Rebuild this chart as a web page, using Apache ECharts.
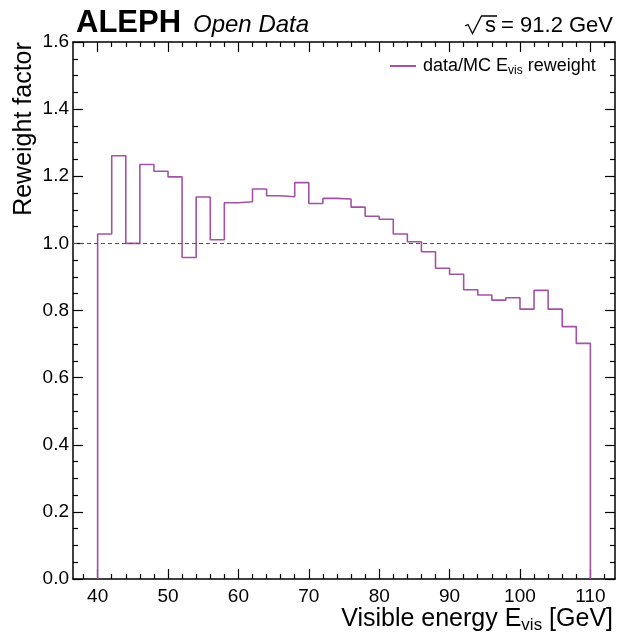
<!DOCTYPE html>
<html>
<head>
<meta charset="utf-8">
<script src="https://cdn.jsdelivr.net/npm/echarts@6/dist/echarts.min.js"></script>
<style>
  html, body { margin: 0; padding: 0; background: #fff; }
  #chart { width: 619px; height: 639px; }
</style>
</head>
<body>
<div id="chart"></div>
<script>
// Bin edges of the visible-energy histogram (GeV)
const binEdges = [40, 42, 44, 46, 48, 50, 52, 54, 56, 58, 60, 62, 64, 66, 68, 70, 72, 74,
                  76, 78, 80, 82, 84, 86, 88, 90, 92, 94, 96, 98, 100, 102, 104, 106, 108, 110];
// data/MC reweight factor per bin
const reweightValues = [1.028, 1.261, 1.000, 1.235, 1.215, 1.198, 0.958, 1.138, 1.011, 1.121,
                        1.124, 1.162, 1.142, 1.139, 1.181, 1.119, 1.134, 1.132, 1.108, 1.081,
                        1.072, 1.028, 1.005, 0.975, 0.926, 0.908, 0.862, 0.846, 0.831, 0.838,
                        0.804, 0.860, 0.804, 0.752, 0.702];
const referenceLevel = 1.0;
const xTickLabels = [40, 50, 60, 70, 80, 90, 100, 110];
const seriesName = 'data/MC E_vis reweight';

const FONT = '"Liberation Sans", Arial, Helvetica, sans-serif';
const X_MIN = 36.5, X_MAX = 113.5;

// minor x ticks every 2 GeV (skipping the labelled ones)
const xMinorTicks = [];
for (let x = 38; x <= 112; x += 2) if (x % 10 !== 0) xMinorTicks.push(x);

// step outline: rise at the first edge, one level per bin, drop at the last edge
const stepPoints = [[binEdges[0], 0]];
reweightValues.forEach((v, i) => stepPoints.push([binEdges[i], v]));
stepPoints.push([binEdges[binEdges.length - 1], reweightValues[reweightValues.length - 1]]);
stepPoints.push([binEdges[binEdges.length - 1], 0]);

const LINE_COLOR = '#a353a3';
const frameLine = { color: '#000', width: 1.5 };
const tickLine = { color: '#000', width: 1.2 };

function xAxisDef(position, major) {
  return {
    type: 'value', min: X_MIN, max: X_MAX, position: position,
    axisLine: { show: major, onZero: false, lineStyle: frameLine },
    axisTick: { show: true, inside: true, length: major ? 10 : 5,
                customValues: major ? xTickLabels : xMinorTicks, lineStyle: tickLine },
    axisLabel: { show: major && position === 'bottom', customValues: xTickLabels,
                 fontSize: 19, color: '#000', fontFamily: FONT, margin: 8 },
    splitLine: { show: false }
  };
}
function yAxisDef(position) {
  return {
    type: 'value', min: 0, max: 1.6, interval: 0.2, position: position,
    axisLine: { show: true, onZero: false, lineStyle: frameLine },
    axisTick: { show: true, inside: true, length: 10, lineStyle: tickLine },
    minorTick: { show: true, splitNumber: 4, length: 5, lineStyle: tickLine },
    axisLabel: { show: position === 'left', fontSize: 19, color: '#000', fontFamily: FONT,
                 margin: 4, formatter: v => v.toFixed(1) },
    splitLine: { show: false },
    minorSplitLine: { show: false }
  };
}

const chart = echarts.init(document.getElementById('chart'), null, { renderer: 'canvas' });
chart.setOption({
  animation: false,
  backgroundColor: '#fff',
  grid: { left: 73, right: 4, top: 42, bottom: 60, containLabel: false },
  xAxis: [xAxisDef('bottom', true), xAxisDef('bottom', false),
          xAxisDef('top', true), xAxisDef('top', false)],
  yAxis: [yAxisDef('left'), yAxisDef('right')],
  legend: {
    show: true,
    left: 385, top: 52,
    icon: 'rect',
    itemWidth: 26, itemHeight: 2, itemGap: 0,
    data: [seriesName],
    formatter: () => '{a|data/MC E}{s|vis}{a| reweight}',
    textStyle: {
      color: '#000', fontFamily: FONT, fontSize: 18, padding: [0, 0, 0, 2],
      rich: {
        a: { fontSize: 18, fontFamily: FONT, color: '#000' },
        s: { fontSize: 12, fontFamily: FONT, color: '#000', padding: [9, 0, 0, 0] }
      }
    }
  },
  series: [{
    name: seriesName,
    type: 'line',
    xAxisIndex: 0, yAxisIndex: 0,
    step: 'end',
    symbol: 'none',
    data: stepPoints,
    lineStyle: { color: LINE_COLOR, width: 1.6 },
    itemStyle: { color: LINE_COLOR },
    markLine: {
      silent: true, symbol: 'none', label: { show: false },
      lineStyle: { color: '#555', type: [4, 3], width: 1.1 },
      data: [{ yAxis: referenceLevel }]
    }
  }],
  graphic: [
    { type: 'text', left: 76, top: 8,
      style: { text: 'ALEPH', font: 'bold 31px ' + FONT, fill: '#000' } },
    { type: 'text', left: 193, top: 13,
      style: { text: 'Open Data', font: 'italic 24px ' + FONT, fill: '#000' } },
    // radical sign with its overline
    { type: 'polyline',
      shape: { points: [[465, 26], [468, 24.5], [472.5, 33.5], [481.5, 16], [497, 16]] },
      style: { stroke: '#000', lineWidth: 1.3, fill: null } },
    { type: 'text', left: 485, top: 15,
      style: { text: 's', font: '22px ' + FONT, fill: '#000' } },
    { type: 'text', right: 6, top: 15,
      style: { text: '= 91.2 GeV', font: '22px ' + FONT, fill: '#000' } },
    { type: 'text', x: 24, y: 129, rotation: Math.PI / 2,
      style: { text: 'Reweight factor', font: '25px ' + FONT, fill: '#000',
               align: 'center', verticalAlign: 'middle' } },
    { type: 'text', right: 6, top: 607,
      style: {
        text: '{a|Visible energy E}{s|vis}{a| [GeV]}',
        fill: '#000',
        rich: {
          a: { fontSize: 25, fontFamily: FONT, fill: '#000' },
          s: { fontSize: 17, fontFamily: FONT, fill: '#000', padding: [11, 0, 0, 0] }
        }
      } }
  ]
});
</script>
</body>
</html>
